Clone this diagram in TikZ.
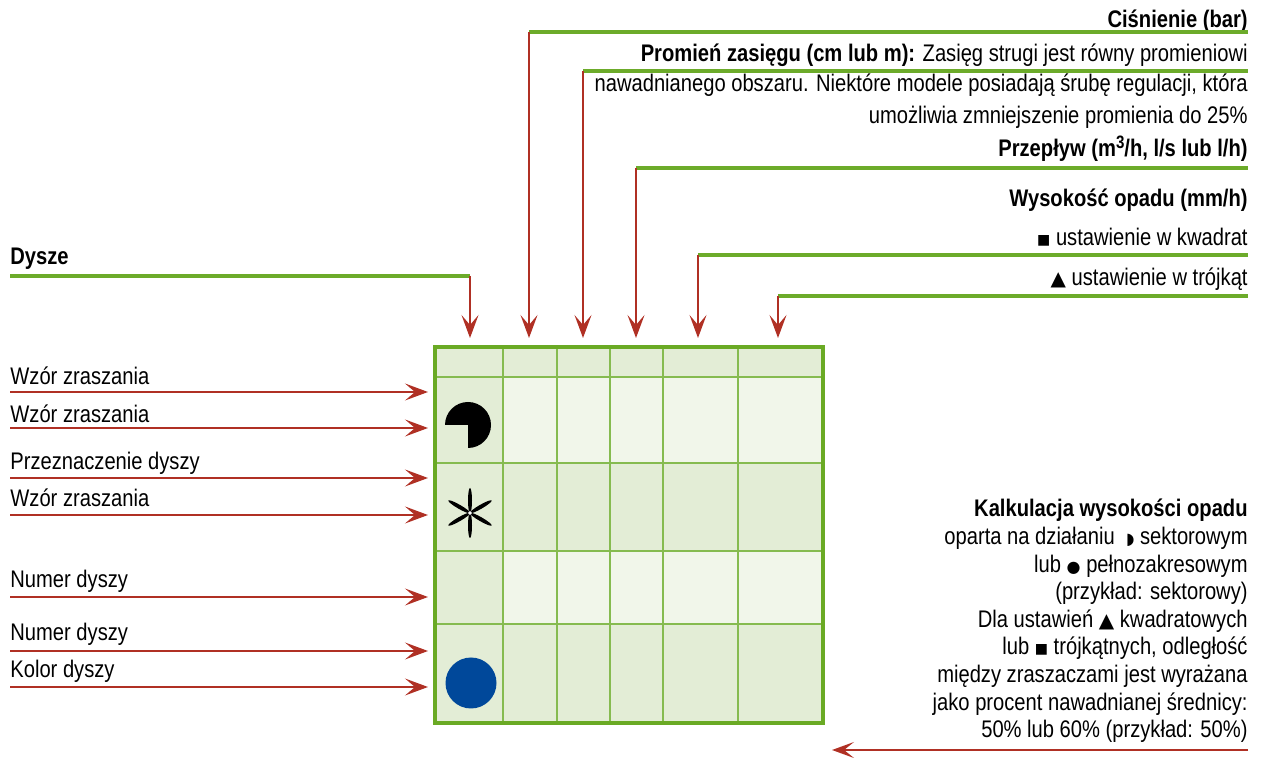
\documentclass[tikz,border=0pt]{standalone}
\usepackage{fontspec}
\setmainfont{Liberation Sans}[FakeStretch=0.84]
\newfontfamily\symfont{DejaVu Sans}
\usetikzlibrary{arrows.meta}

\definecolor{linegreen}{RGB}{108,171,42}
\definecolor{arrowred}{RGB}{176,48,36}
\definecolor{celldark}{RGB}{227,237,214}
\definecolor{celllight}{RGB}{241,246,234}
\definecolor{gridgreen}{RGB}{134,187,80}
\definecolor{framegreen}{RGB}{106,170,36}
\definecolor{nozzleblue}{RGB}{0,72,154}

\newcommand{\symsq}{\raisebox{0.6pt}{\symfont\fontsize{7}{7}\selectfont ■}}
\newcommand{\symtri}{{\symfont\fontsize{10}{10}\selectfont ▲}}
\newcommand{\symdot}{{\symfont\fontsize{8}{8}\selectfont ●}}
\newcommand{\symhalf}{{\symfont\fontsize{8}{8}\selectfont ◗}}
\newcommand{\cubed}{\raisebox{4.2pt}{\fontsize{9}{9}\selectfont 3}}

\tikzset{
  lbl/.style={font=\fontsize{12}{14}\selectfont, inner sep=0pt},
  leader/.style={linegreen, line width=1.6pt},
  pointer/.style={arrowred, line width=0.75pt, -{Stealth[length=11.5pt,width=8.5pt,inset=5pt]}},
  gridline/.style={gridgreen, line width=0.8pt},
  frame/.style={framegreen, line width=2pt}
}

\begin{document}
\begin{tikzpicture}[x=0.5pt,y=-0.5pt]
\useasboundingbox (0,0) rectangle (1264,758);

% table
\fill[celldark] (435,347) rectangle (823,723);
\foreach \ya/\yb in {377/463,551/624}{
  \fill[celllight] (503,\ya) rectangle (823,\yb);
}
\foreach \x in {503,557,610,663,738}{
  \draw[gridline] (\x,347) -- (\x,723);
}
\foreach \y in {377,463,551,624}{
  \draw[gridline] (435,\y) -- (823,\y);
}
\draw[frame] (435,347) rectangle (823,723);

% nozzle symbols
\fill (468,425) -- ++(180:23) arc[start angle=180, end angle=450, radius=23] -- cycle;
\foreach \a in {30,90,150,210,270,330}{
  \fill[rotate around={\a:(470,513)}] (482.5,513) ellipse[x radius=12.5, y radius=2];
}
\filldraw[fill=white, line width=0.4pt] (470,513) circle[radius=2.3];
\fill[nozzleblue] (471,683) circle[radius=25.5];

% texts top right
\coordinate (edge) at (1248,0);
\node[lbl, anchor=base east] (pres) at (1248,28) {\textbf{Ciśnienie (bar)}};
\node[lbl, anchor=base east] (rad1) at (1248,62) {\textbf{Promień zasięgu (cm lub m):} Zasięg strugi jest równy promieniowi};
\node[lbl, anchor=base east] (rad2) at (1248,92) {nawadnianego obszaru. Niektóre modele posiadają śrubę regulacji, która};
\node[lbl, anchor=base east] (rad3) at (1248,124) {umożliwia zmniejszenie promienia do 25\%};
\node[lbl, anchor=base east] (flow) at (1248,157) {\textbf{Przepływ (m\cubed/h, l/s lub l/h)}};
\node[lbl, anchor=base east] (rain) at (1248,207) {\textbf{Wysokość opadu (mm/h)}};
\node[lbl, anchor=base east] (sqtxt) at (1248,246) {\symsq{} ustawienie w kwadrat};
\node[lbl, anchor=base east] (tritxt) at (1248,286) {\symtri{} ustawienie w trójkąt};
\node[lbl, anchor=base west] (nozz) at (10,265) {\textbf{Dysze}};

% leaders from the top
\foreach \n/\x/\y in {pres/529/32, rad/583/71, flow/636/168, sq/698/255, tri/778/296}{
  \coordinate (\n-k) at (\x,\y);
  \coordinate (\n-t) at (\x,338);
  \draw[leader] (\n-k) -- (\n-k -| edge);
  \draw[pointer] (\n-k) -- (\n-t);
}
\coordinate (nozz-k) at (470,276);
\coordinate (nozz-t) at (470,338);
\draw[leader] (nozz-k -| nozz.west) -- (nozz-k);
\draw[pointer] (nozz-k) -- (nozz-t);

% labels on the left
\foreach \n/\yb/\y/\t in {a/385/392/{Wzór zraszania}, b/423/428/{Wzór zraszania},
    c/470/478/{Przeznaczenie dyszy}, d/507/515/{Wzór zraszania},
    e/588/597/{Numer dyszy}, f/641/651/{Numer dyszy}, g/678/687/{Kolor dyszy}}{
  \node[lbl, anchor=base west] (\n) at (10,\yb) {\t};
  \coordinate (\n-s) at (10,\y);
  \coordinate (\n-t) at (428,\y);
  \draw[pointer] (\n-s) -- (\n-t);
}

% rainfall note
\foreach \i/\t in {0/{\textbf{Kalkulacja wysokości opadu}},
    1/{oparta na działaniu \ \symhalf{} sektorowym},
    2/{lub \symdot{} pełnozakresowym},
    3/{(przykład: sektorowy)},
    4/{Dla ustawień \symtri{} kwadratowych},
    5/{lub \symsq{} trójkątnych, odległość},
    6/{między zraszaczami jest wyrażana},
    7/{jako procent nawadnianej średnicy:},
    8/{50\% lub 60\% (przykład: 50\%)}}{
  \node[lbl, anchor=base east] (calc\i) at (1248,{517+27.6*\i}) {\t};
}
\coordinate (calc-s) at (1248,750);
\coordinate (calc-t) at (832,750);
\draw[pointer, -{Stealth[length=11pt,width=8pt,inset=5pt]}] (calc-s) -- (calc-t);
\end{tikzpicture}
\end{document}
